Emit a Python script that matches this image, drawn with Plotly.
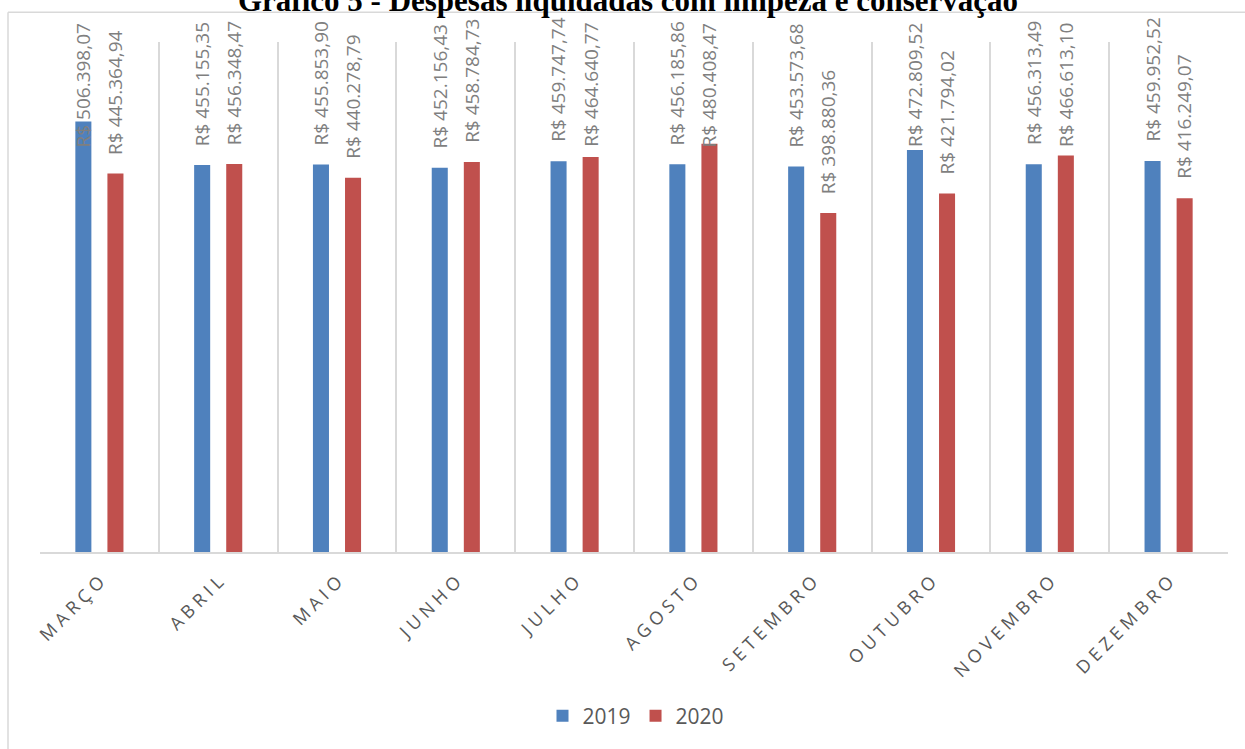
import plotly.graph_objects as go

# Despesas liquidadas com limpeza e conservação (R$)
meses = ["MARÇO", "ABRIL", "MAIO", "JUNHO", "JULHO", "AGOSTO",
         "SETEMBRO", "OUTUBRO", "NOVEMBRO", "DEZEMBRO"]
valores_2019 = [506398.07, 455155.35, 455853.90, 452156.43, 459747.74,
                456185.86, 453573.68, 472809.52, 456313.49, 459952.52]
valores_2020 = [445364.94, 456348.47, 440278.79, 458784.73, 464640.77,
                480408.47, 398880.36, 421794.02, 466613.10, 416249.07]
series = [("2019", valores_2019, "#4f81bd"), ("2020", valores_2020, "#c0504d")]

W, H = 1245, 749
ML, MR, MT, MB = 40, 17, 42, 194
PH = H - MT - MB
YMAX = 600000
BARGAP, GROUPGAP = 0.46, 0.5

LABEL_GAP = 18      # px between bar top and its label
LABEL_LEN = 121     # approx. length of a rotated value label, px
LABEL_TOP = 22      # labels never rise above this pixel row


def brl(v):
    s = f"{v:,.2f}".replace(",", "X").replace(".", ",").replace("X", ".")
    return "R$ " + s


def spaced(txt):
    return "\u00a0".join(txt)


categorias = [spaced(m) for m in meses]

fig = go.Figure()
for nome, vals, cor in series:
    fig.add_trace(go.Bar(name=nome, x=categorias, y=vals,
                         marker=dict(color=cor, line=dict(width=0))))

# value labels, rotated, above each bar
half = (1 - BARGAP) / 4
annotations = []
for k, (nome, vals, cor) in enumerate(series):
    off = -half if k == 0 else half
    for i, v in enumerate(vals):
        top_px = MT + (1 - v / YMAX) * PH
        common = dict(x=i + off, xref="x", text=brl(v), textangle=-90,
                      showarrow=False, borderpad=0,
                      font=dict(family="Open Sans", size=19, color="#7f7f7f"))
        if top_px - LABEL_GAP - LABEL_LEN < LABEL_TOP:
            annotations.append(dict(**common, yref="paper",
                                    y=1 + (MT - LABEL_TOP) / PH, yanchor="top"))
        else:
            annotations.append(dict(**common, yref="y", y=v, yanchor="bottom",
                                    yshift=LABEL_GAP))

# chart title (partly above the frame)
annotations.append(dict(
    text="<b>Gráfico 5 - Despesas liquidadas com limpeza e conservação</b>",
    xref="paper", yref="paper", x=(628 - ML) / (W - ML - MR), xanchor="center",
    y=1 + (MT - 20) / PH, yanchor="bottom", showarrow=False,
    font=dict(family="Liberation Serif", size=31, color="#000000")))

shapes = [
    # outer chart frame (left and top edges)
    dict(type="line", xref="paper", yref="paper",
         x0=-(ML - 8) / (W - ML - MR), x1=(W - ML) / (W - ML - MR),
         y0=1 + (MT - 12) / PH, y1=1 + (MT - 12) / PH,
         line=dict(color="#d9d9d9", width=1.5)),
    dict(type="line", xref="paper", yref="paper",
         x0=-(ML - 8) / (W - ML - MR), x1=-(ML - 8) / (W - ML - MR),
         y0=1 + (MT - 12) / PH, y1=-MB / PH - 0.01,
         line=dict(color="#d9d9d9", width=1.5)),
]

fig.update_layout(
    width=W, height=H,
    margin=dict(l=ML, r=MR, t=MT, b=MB),
    paper_bgcolor="white", plot_bgcolor="white",
    barmode="group", bargap=BARGAP, bargroupgap=GROUPGAP,
    showlegend=True,
    legend=dict(orientation="h", x=(636 - ML) / (W - ML - MR), xanchor="center",
                y=-(720 - MT - PH) / PH, yanchor="middle",
                font=dict(family="Open Sans", size=21, color="#595959"),
                itemwidth=30, traceorder="normal"),
    annotations=annotations,
    shapes=shapes,
)
fig.update_xaxes(type="category", tickson="boundaries", showgrid=True,
                 gridcolor="#d9d9d9", gridwidth=1.5,
                 showline=True, linecolor="#d9d9d9", linewidth=1.5,
                 ticks="", tickangle=-45, ticklabelstandoff=11,
                 tickfont=dict(family="Open Sans", size=18, color="#595959"))
fig.update_yaxes(range=[0, YMAX], showgrid=False, zeroline=False,
                 showticklabels=False, showline=False)

fig.write_html("out.html")
